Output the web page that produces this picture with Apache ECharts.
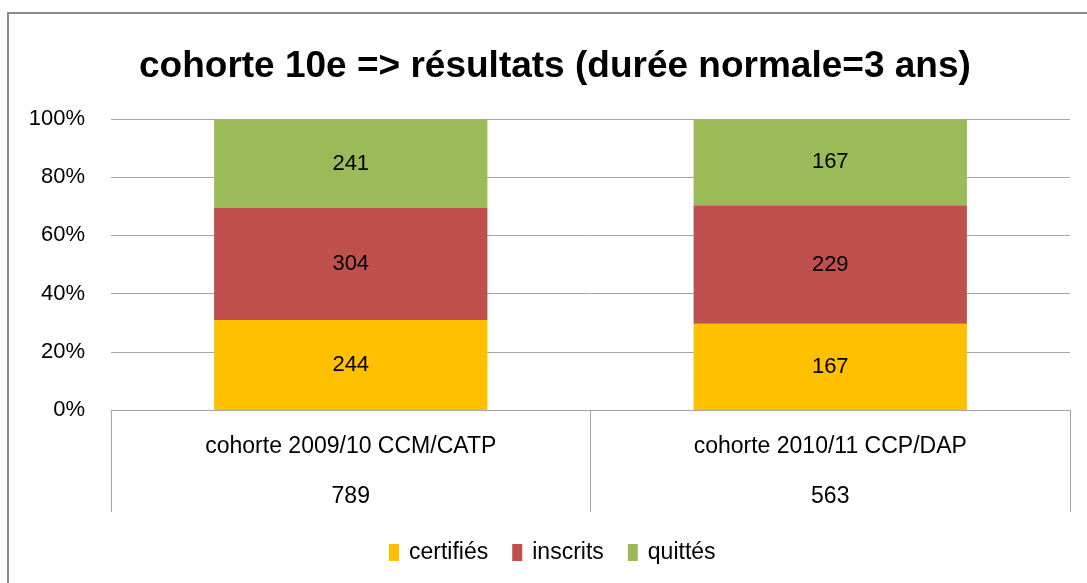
<!DOCTYPE html>
<html>
<head>
<meta charset="utf-8">
<script src="https://cdn.jsdelivr.net/npm/echarts@6/dist/echarts.min.js"></script>
<style>
  html, body { margin: 0; padding: 0; background: #fff; }
  #container { width: 1087px; height: 583px; }
</style>
</head>
<body>
<div id="container"></div>
<script>
var categories = ['cohorte 2009/10 CCM/CATP', 'cohorte 2010/11 CCP/DAP'];
var totals = [789, 563];
var certifies = [244, 167];
var inscrits = [304, 229];
var quittes = [241, 167];
var yTicks = [0, 20, 40, 60, 80, 100];

var dom = document.getElementById('container');
var myChart = echarts.init(dom);

function share(counts) {
  // part of each cohort, in percent, for the 100% stack
  return counts.map(function (c, i) { return c / totals[i] * 100; });
}

function makeSeries(name, counts, color) {
  return {
    name: name,
    type: 'bar',
    stack: 'all',
    barWidth: '57%',
    data: share(counts),
    itemStyle: { color: color },
    label: {
      show: true,
      position: 'inside',
      color: '#000',
      fontFamily: 'Liberation Sans',
      fontSize: 22,
      formatter: function (p) { return counts[p.dataIndex]; }
    }
  };
}

var option = {
  animation: false,
  textStyle: { fontFamily: 'Liberation Sans' },
  title: {
    text: 'cohorte 10e => résultats (durée normale=3 ans)',
    left: 134,
    top: 43,
    textStyle: { fontSize: 37, fontWeight: 'bold', color: '#000', fontFamily: 'Liberation Sans' }
  },
  legend: {
    left: 384,
    top: 536,
    itemWidth: 10,
    itemHeight: 17,
    itemGap: 24,
    icon: 'rect',
    textStyle: { fontSize: 23, color: '#000', fontFamily: 'Liberation Sans', padding: [0, 0, 0, 5] },
    data: ['certifiés', 'inscrits', 'quittés']
  },
  grid: { left: 111, right: 17, top: 119, bottom: 173 },
  xAxis: {
    type: 'category',
    data: categories,
    axisLine: { show: true, lineStyle: { color: '#a6a6a6', width: 1 } },
    axisTick: { show: true, length: 102, lineStyle: { color: '#a6a6a6' } },
    axisLabel: {
      margin: 12,
      formatter: function (v, i) { return '{a|' + v + '}\n{a|' + totals[i] + '}'; },
      rich: {
        a: { fontSize: 23, lineHeight: 50, color: '#000', fontFamily: 'Liberation Sans' }
      }
    }
  },
  yAxis: {
    type: 'value',
    min: yTicks[0],
    max: yTicks[yTicks.length - 1],
    interval: 20,
    axisLine: { show: false },
    axisTick: { show: false },
    splitLine: { lineStyle: { color: '#a6a6a6', width: 1 } },
    axisLabel: {
      margin: 26,
      fontSize: 22,
      color: '#000',
      fontFamily: 'Liberation Sans',
      formatter: '{value}%'
    }
  },
  graphic: [
    {
      type: 'rect',
      shape: { x: 8, y: 13, width: 1100, height: 600 },
      style: { fill: 'none', stroke: '#8c8c8c', lineWidth: 2 },
      silent: true
    }
  ],
  series: [
    makeSeries('certifiés', certifies, '#FFC000'),
    makeSeries('inscrits', inscrits, '#C0504D'),
    makeSeries('quittés', quittes, '#9BBB59')
  ]
};

myChart.setOption(option);
</script>
</body>
</html>
